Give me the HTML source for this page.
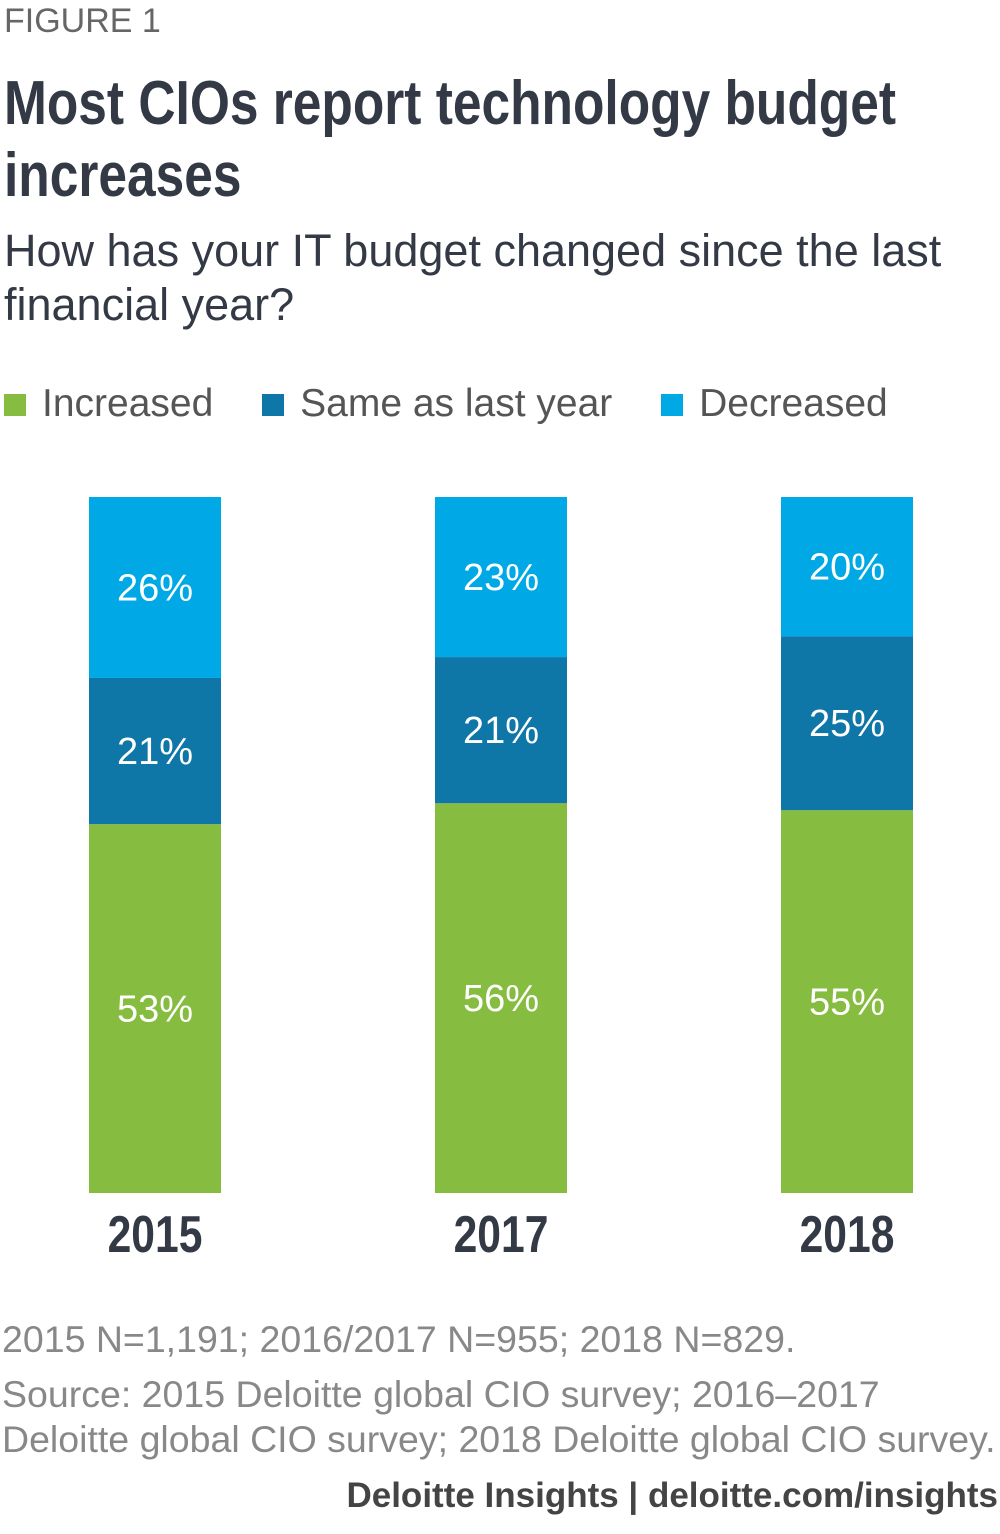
<!DOCTYPE html>
<html><head><meta charset="utf-8"><style>
body{margin:0;width:1000px;height:1534px;background:#fff;font-family:"Liberation Sans",sans-serif;position:relative;overflow:hidden}
.t{position:absolute;white-space:nowrap}
</style></head><body>
<div class="t" style="left:4px;top:2px;font-size:34px;color:#666">FIGURE 1</div>
<div class="t" style="left:4px;top:68px;font-weight:bold;font-size:62px;line-height:72px;color:#333a45;transform:scaleX(0.83);transform-origin:0 0">Most CIOs report technology budget<br>increases</div>
<div class="t" style="left:4px;top:224px;font-size:45px;line-height:54px;color:#333a45">How has your IT budget changed since the last<br>financial year?</div>
<div class="t" style="left:4px;top:382px;font-size:39px;color:#555">
<span><span style="display:inline-block;width:22px;height:22px;background:#86bc40;margin-right:16px"></span>Increased</span>
<span style="margin-left:38px"><span style="display:inline-block;width:22px;height:22px;background:#0f76a8;margin-right:16px"></span>Same as last year</span>
<span style="margin-left:38px"><span style="display:inline-block;width:22px;height:22px;background:#00a9e6;margin-right:16px"></span>Decreased</span>
</div>
<svg id="chart" width="1000" height="1534" style="position:absolute;left:0;top:0"></svg>
<div class="t" style="left:2px;top:1318px;font-size:37.5px;color:#888">2015 N=1,191; 2016/2017 N=955; 2018 N=829.</div>
<div class="t" style="left:2px;top:1372px;font-size:37.5px;line-height:45px;color:#888">Source: 2015 Deloitte global CIO survey; 2016–2017<br>Deloitte global CIO survey; 2018 Deloitte global CIO survey.</div>
<div class="t" style="right:2px;top:1476px;font-size:35px;font-weight:bold;color:#444">Deloitte Insights | deloitte.com/insights</div>
<script>
const categories=["2015","2017","2018"];
const increased=[53,56,55];
const same=[21,21,25];
const decreased=[26,23,20];
const svg=document.getElementById('chart');
const NS='http://www.w3.org/2000/svg';
const top0=497,bottom=1193,barW=132;
const centers=[155,501,847];
const y=v=>bottom-(bottom-top0)*v/100;
const series=[[increased,'#86bc40','increased'],[same,'#0f76a8','same'],[decreased,'#00a9e6','decreased']];
categories.forEach((c,i)=>{
 let base=0;
 const tot=increased[i]+same[i]+decreased[i];
 series.forEach(([arr,col,nm])=>{
  const v=arr[i]*100/tot;
  const y1=y(base),y2=y(base+v);
  const r=document.createElementNS(NS,'rect');
  
  
  r.setAttribute('x',centers[i]-barW/2);r.setAttribute('y',y2);
  r.setAttribute('width',barW);r.setAttribute('height',y1-y2);r.setAttribute('fill',col);
  svg.appendChild(r);
  const t=document.createElementNS(NS,'text');
  
  
  t.setAttribute('x',centers[i]);t.setAttribute('y',(y1+y2)/2+13);
  t.setAttribute('text-anchor','middle');t.setAttribute('fill','#fff');
  t.setAttribute('font-size','38');t.setAttribute('font-family','Liberation Sans, sans-serif');
  t.textContent=arr[i]+'%';svg.appendChild(t);
  base+=v;
 });
 const l=document.createElementNS(NS,'text');
 
 
 l.setAttribute('x',0);l.setAttribute('y',0);
 l.setAttribute('transform','translate('+centers[i]+',1252) scale(0.82,1)');
 l.setAttribute('text-anchor','middle');l.setAttribute('fill','#333a45');
 l.setAttribute('font-size','52');l.setAttribute('font-weight','bold');
 l.setAttribute('font-family','Liberation Sans, sans-serif');
 l.textContent=c;svg.appendChild(l);
});
</script>
</body></html>
